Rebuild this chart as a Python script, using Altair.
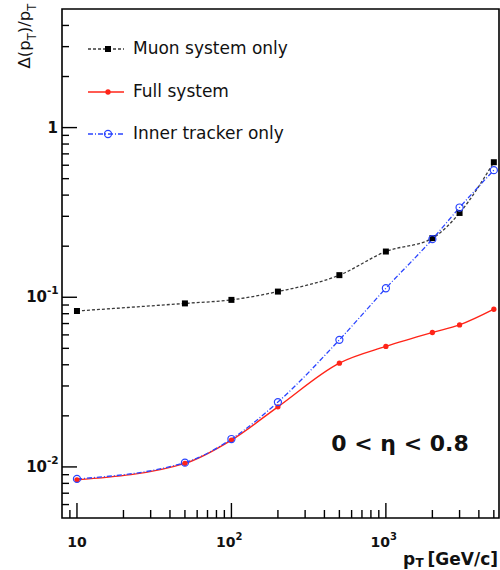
import altair as alt
import pandas as pd

# ---- data ----
pt = [10, 50, 100, 200, 500, 1000, 2000, 3000, 5000]
muon = [0.083, 0.092, 0.0965, 0.108, 0.135, 0.186, 0.223, 0.314, 0.625]
full = [0.0084, 0.0105, 0.0144, 0.0226, 0.0409, 0.0513, 0.062, 0.0687, 0.085]
inner = [0.0085, 0.0106, 0.0146, 0.0241, 0.0561, 0.113, 0.220, 0.338, 0.561]

series_names = ["Muon system only", "Full system", "Inner tracker only"]
eta_label = "0 < η < 0.8"

x_major = [10, 100, 1000]
x_label_base = ["10", "10", "10"]
x_label_exp = ["", "2", "3"]
x_minor = [9, 20, 30, 40, 50, 60, 70, 80, 90,
           200, 300, 400, 500, 600, 700, 800, 900,
           2000, 3000, 4000, 5000]
y_major = [0.01, 0.1, 1]
y_label_base = ["10", "10", "1"]
y_label_exp = ["-2", "-1", ""]
y_minor = [0.006, 0.007, 0.008, 0.009,
           0.02, 0.03, 0.04, 0.05, 0.06, 0.07, 0.08, 0.09,
           0.2, 0.3, 0.4, 0.5, 0.6, 0.7, 0.8, 0.9,
           2, 3, 4]

W, H = 437, 509
FONT = "DejaVu Sans"
RED = "#ff2418"
BLUE = "#2a44ff"
GREY = "#3a3a3a"
INK = "#111111"

xscale = alt.Scale(type="log", domain=[8, 5400], nice=False)
yscale = alt.Scale(type="log", domain=[0.005, 5], nice=False)


def X(f):
    return alt.X(f, type="quantitative", scale=xscale, axis=None)


def Y(f):
    return alt.Y(f, type="quantitative", scale=yscale, axis=None)


df = pd.DataFrame({"pt": pt, "muon": muon, "full": full, "inner": inner})

muon_line = alt.Chart(df).mark_line(color=GREY, strokeDash=[3, 2], strokeWidth=1.3,
                                    interpolate="monotone").encode(x=X("pt"), y=Y("muon"))
full_line = alt.Chart(df).mark_line(color=RED, strokeWidth=1.4,
                                    interpolate="monotone").encode(x=X("pt"), y=Y("full"))
inner_line = alt.Chart(df).mark_line(color=BLUE, strokeDash=[5, 2, 1, 2], strokeWidth=1.3,
                                     interpolate="monotone").encode(x=X("pt"), y=Y("inner"))
muon_pts = alt.Chart(df).mark_point(shape="square", filled=True, color="black", size=36,
                                    opacity=1).encode(x=X("pt"), y=Y("muon"))
full_pts = alt.Chart(df).mark_point(shape="circle", filled=True, color=RED, size=28,
                                    opacity=1).encode(x=X("pt"), y=Y("full"))
inner_pts = alt.Chart(df).mark_point(shape="circle", filled=False, color=BLUE, size=50,
                                     strokeWidth=1.2, opacity=1).encode(x=X("pt"), y=Y("inner"))

# ---- inward ticks (ROOT style) ----
ymaj = alt.Chart(pd.DataFrame({"v": y_major})).mark_rule(color="black", strokeWidth=1.4).encode(
    y=Y("v"), x=alt.value(0), x2=alt.value(15))
ymin = alt.Chart(pd.DataFrame({"v": y_minor})).mark_rule(color="black", strokeWidth=1.4).encode(
    y=Y("v"), x=alt.value(0), x2=alt.value(7))
xmaj = alt.Chart(pd.DataFrame({"v": x_major})).mark_rule(color="black", strokeWidth=1.4).encode(
    x=X("v"), y=alt.value(H), y2=alt.value(H - 15))
xmin = alt.Chart(pd.DataFrame({"v": x_minor})).mark_rule(color="black", strokeWidth=1.4).encode(
    x=X("v"), y=alt.value(H), y2=alt.value(H - 8))

# ---- tick labels with real superscripts ----
xl = pd.DataFrame({"v": x_major, "base": x_label_base, "exp": x_label_exp})
yl = pd.DataFrame({"v": y_major, "base": y_label_base, "exp": y_label_exp})
lab = dict(font=FONT, fontWeight="bold", color=INK)

x_plain = alt.Chart(xl).transform_filter("datum.exp == ''").mark_text(
    fontSize=14, align="center", baseline="alphabetic", **lab).encode(
    x=X("v"), y=alt.value(H + 29), text="base:N")
x_base = alt.Chart(xl).transform_filter("datum.exp != ''").mark_text(
    fontSize=14, align="right", baseline="alphabetic", dx=4, **lab).encode(
    x=X("v"), y=alt.value(H + 29), text="base:N")
x_exp = alt.Chart(xl).transform_filter("datum.exp != ''").mark_text(
    fontSize=10, align="left", baseline="alphabetic", dx=4, **lab).encode(
    x=X("v"), y=alt.value(H + 22), text="exp:N")

y_plain = alt.Chart(yl).transform_filter("datum.exp == ''").mark_text(
    fontSize=15, align="right", baseline="middle", **lab).encode(
    y=Y("v"), x=alt.value(-4), text="base:N")
y_base = alt.Chart(yl).transform_filter("datum.exp != ''").mark_text(
    fontSize=15, align="right", baseline="middle", **lab).encode(
    y=Y("v"), x=alt.value(-15), text="base:N")
y_exp = alt.Chart(yl).transform_filter("datum.exp != ''").mark_text(
    fontSize=10.5, align="left", baseline="middle", dy=-6, **lab).encode(
    y=Y("v"), x=alt.value(-15), text="exp:N")

# ---- legend (ROOT TLegend style) ----
leg_y = [40, 83, 125]
leg_styles = [
    dict(color=GREY, strokeDash=[3, 2]),
    dict(color=RED),
    dict(color=BLUE, strokeDash=[5, 2, 1, 2]),
]
leg_marks = [
    dict(shape="square", filled=True, color="black", size=36),
    dict(shape="circle", filled=True, color=RED, size=28),
    dict(shape="circle", filled=False, color=BLUE, size=50, strokeWidth=1.2),
]
legend_layers = []
for name, yy, ls, mk in zip(series_names, leg_y, leg_styles, leg_marks):
    d = pd.DataFrame({"label": [name]})
    legend_layers.append(alt.Chart(d).mark_rule(strokeWidth=1.3, **ls).encode(
        x=alt.value(26), x2=alt.value(62), y=alt.value(yy)))
    legend_layers.append(alt.Chart(d).mark_point(opacity=1, **mk).encode(
        x=alt.value(46), y=alt.value(yy)))
    legend_layers.append(alt.Chart(d).mark_text(font=FONT, fontSize=17, color=INK,
                                                align="left", baseline="middle").encode(
        x=alt.value(71), y=alt.value(yy), text="label:N"))

eta = alt.Chart(pd.DataFrame({"t": [eta_label]})).mark_text(
    font=FONT, fontSize=22, fontWeight="bold", color=INK, align="center",
    baseline="alphabetic").encode(x=alt.value(338), y=alt.value(442), text="t:N")


# ---- axis titles built from pieces (subscripts) ----
def txt(s, x, y, size, weight="normal", align="left", angle=0):
    kw = dict(font=FONT, fontSize=size, fontWeight=weight, color=INK,
              align=align, baseline="alphabetic")
    if angle:
        kw["angle"] = angle
    return alt.Chart(pd.DataFrame({"t": [s]})).mark_text(**kw).encode(
        x=alt.value(x), y=alt.value(y), text="t:N")


title_layers = [
    txt("Δ(p", -32, 59.5, 16.5, angle=270),
    txt("T", -26, 31.3, 11.5, angle=270),
    txt(")/p", -32, 24.3, 16.5, angle=270),
    txt("T", -26, 1.8, 11.5, angle=270),
    txt("p", 341, 556, 17, weight="bold"),
    txt("T", 353.5, 558, 12, weight="bold"),
    txt("[GeV/c]", 436, 556, 17, weight="bold", align="right"),
]

chart = alt.layer(
    muon_line, full_line, inner_line, muon_pts, full_pts, inner_pts,
    ymaj, ymin, xmaj, xmin,
    x_plain, x_base, x_exp, y_plain, y_base, y_exp,
    eta, *legend_layers, *title_layers
).properties(
    width=W, height=H,
    padding={"left": 62, "top": 9, "right": 1, "bottom": 52},
    autosize=alt.AutoSizeParams(type="none"),
    background="white",
).configure_view(stroke="black", strokeWidth=1.6)

chart.save("out.html", embed_options={"renderer": "svg", "actions": False})
